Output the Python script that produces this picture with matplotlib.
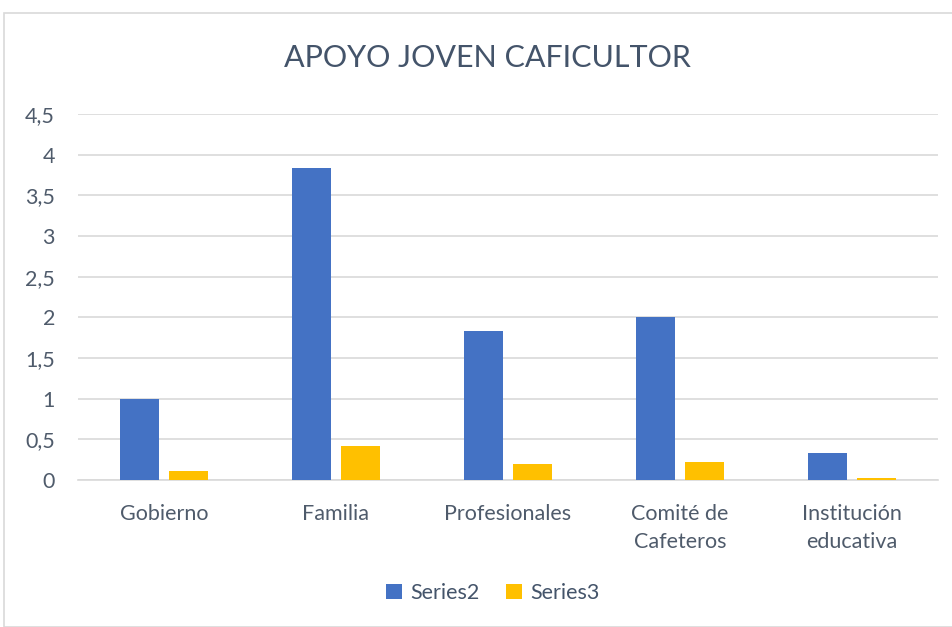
import matplotlib
matplotlib.use("Agg")
import matplotlib.pyplot as plt
import numpy as np
from matplotlib.patches import Rectangle

categories = ["Gobierno", "Familia", "Profesionales", "Comité de\nCafeteros", "Institución\neducativa"]
series2 = [1.0, 3.84, 1.83, 2.0, 0.33]
series3 = [0.11, 0.42, 0.20, 0.22, 0.03]
yticks = [0, 0.5, 1, 1.5, 2, 2.5, 3, 3.5, 4, 4.5]
ytick_labels = ["0", "0,5", "1", "1,5", "2", "2,5", "3", "3,5", "4", "4,5"]

plt.rcParams['font.family'] = ['Lato', 'DejaVu Sans']
text_col = '#4F5B6B'
title_col = '#44546A'

fig = plt.figure(figsize=(9.53, 6.27), dpi=100)
fig.patches.append(Rectangle((4/953, 0), 1, 1 - 13/627, transform=fig.transFigure,
                             fill=False, edgecolor='#d9d9d9', linewidth=1.2))
ax = fig.add_axes([78/953, 1 - 480/627, 860/953, (480 - 114)/627])

x = np.arange(len(categories))
bw = 0.227
off = 0.1425
ax.bar(x - off, series2, bw, color='#4472C4', label='Series2', zorder=3)
ax.bar(x + off, series3, bw, color='#FFC000', label='Series3', zorder=3)

ax.set_xlim(-0.5, len(categories) - 0.5)
ax.set_ylim(0, 4.5)
ax.set_yticks(yticks)
ax.set_yticklabels(ytick_labels)
ax.set_xticks(x)
ax.set_xticklabels(categories, linespacing=1.5)
ax.yaxis.grid(True, color='#d9d9d9', linewidth=1.2, zorder=0)
ax.set_axisbelow(True)
for s in ['top', 'right', 'left']:
    ax.spines[s].set_visible(False)
ax.spines['bottom'].set_color('#d9d9d9')
ax.spines['bottom'].set_linewidth(1.2)
ax.tick_params(axis='both', length=0, labelsize=15.5, colors=text_col)
ax.tick_params(axis='x', pad=17)
ax.tick_params(axis='y', pad=16.5)

fig.text(0.512, 1 - 58/627, "APOYO JOVEN CAFICULTOR", ha='center', va='center',
         fontsize=22, color=title_col)

leg = fig.legend(loc='center', bbox_to_anchor=(493/953, 1 - 593/627), ncol=2, frameon=False,
                 fontsize=15.5, handlelength=0.75, handleheight=0.75, columnspacing=1.2,
                 handletextpad=0.4, labelcolor=title_col)

fig.savefig("out.png", dpi=100)
